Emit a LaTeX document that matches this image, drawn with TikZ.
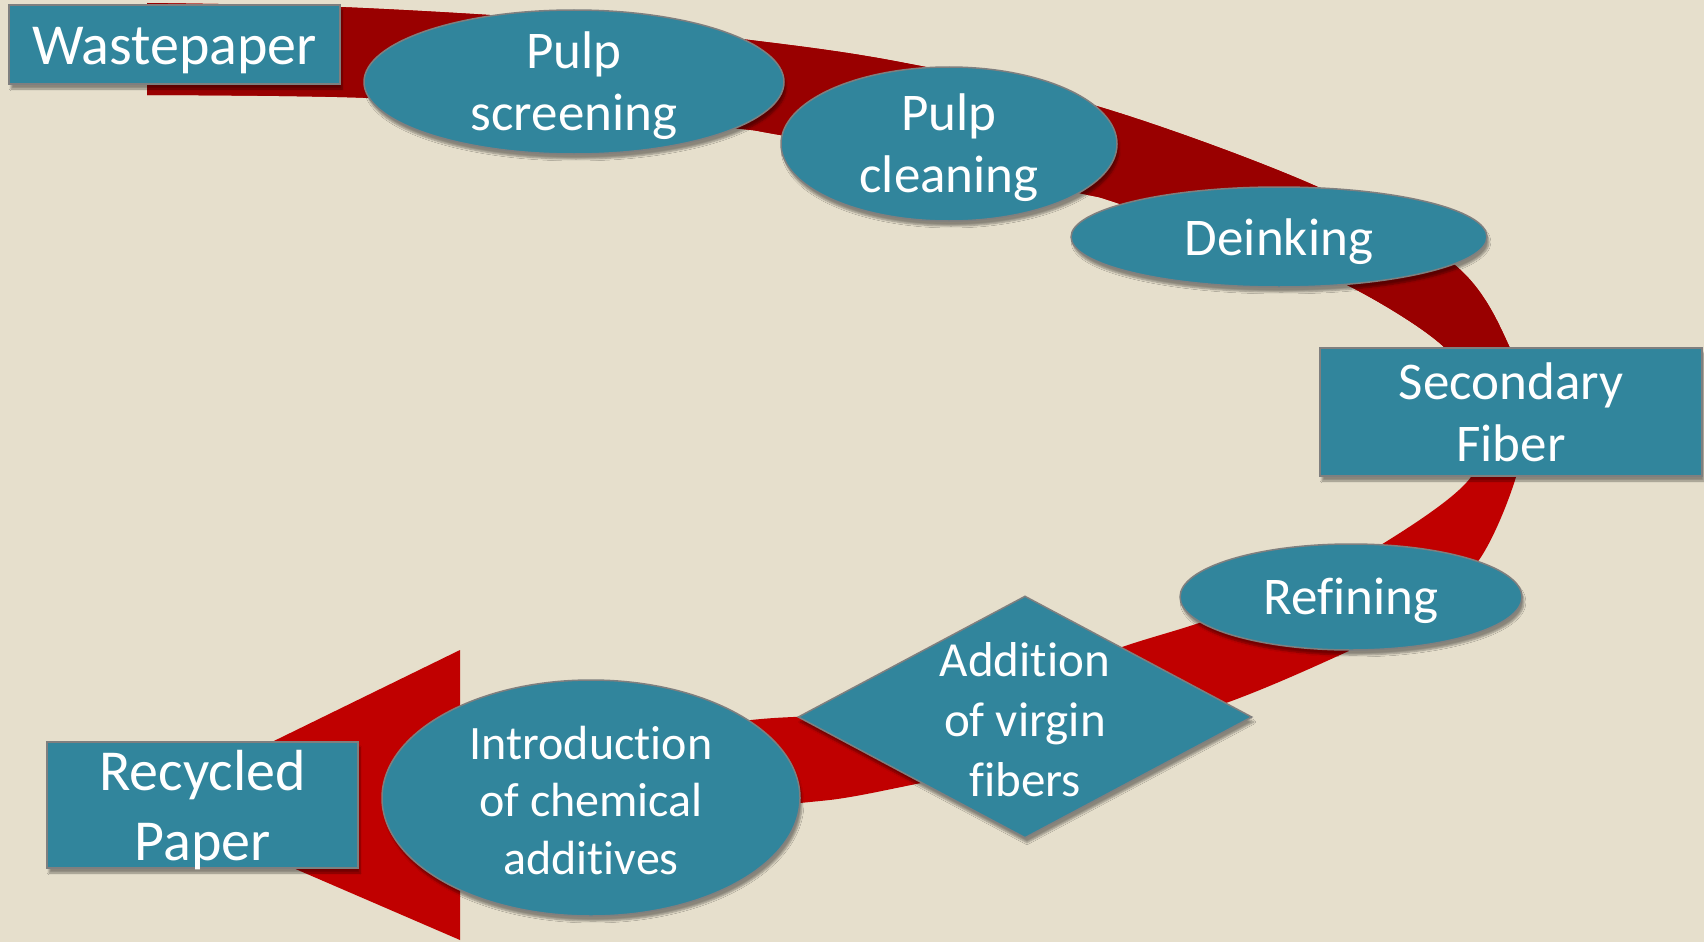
\documentclass[tikz,border=0pt]{standalone}
\usepackage{fontspec}
\setmainfont{Carlito}[Ligatures={NoCommon,NoContextual,NoRequired}, Contextuals=NoAlternate]
\usetikzlibrary{shapes.geometric,shadows.blur}
\definecolor{bgc}{HTML}{E6DFCC}
\definecolor{tealc}{HTML}{31859C}
\definecolor{darkband}{HTML}{990000}
\definecolor{brightband}{HTML}{C00000}
\definecolor{edgec}{HTML}{7F7F7F}
\newcommand\nolig{\kern0pt{}}
\tikzset{
  shapebase/.style={fill=tealc, draw=edgec, line width=1.5pt, inner sep=0pt,
    blur shadow={shadow xshift=2pt, shadow yshift=-5pt, shadow blur steps=6, shadow opacity=40}},
  boxnode/.style={shapebase, rectangle},
  ellnode/.style={shapebase, ellipse},
  dianode/.style={shapebase, diamond},
  lbl/.style={text=white, align=center, inner sep=0pt},
  fmain/.style={font=\fontsize{53}{62}\selectfont},
  fbig/.style={font=\fontsize{58}{70}\selectfont},
  fsmall/.style={font=\fontsize{48}{57.5}\selectfont},
}
\begin{document}
\begin{tikzpicture}[x=1pt, y=-1pt]
\fill[bgc] (0,0) rectangle (1704,942);
\useasboundingbox (0,0) rectangle (1704,942);

% the curved band
\path[save path=\bandp]
  plot[smooth, tension=0.55] coordinates {(147,3) (340,7) (560,20) (750,40) (900,62) (1100,107) (1318,187) (1456,266) (1510,348) (1524,412) (1516,477) (1479,560) (1420,615) (1351,650) (1226,703) (1060,755) (921,783) (850,797) (800,803) (640,818) (460,830)}
  -- plot[smooth, tension=0.55] coordinates {(460,760) (600,740) (751,720) (850,713) (1000,690) (1122,647) (1199,623) (1290,590) (1384,543) (1471,477) (1478,412) (1445,348) (1347,285) (1250,250) (1117,203) (1079,193) (950,165) (780,135) (732,128) (560,112) (370,98) (147,95)}
  -- cycle;
\fill[brightband, use path=\bandp];
\begin{scope}
  \clip (0,0) rectangle (1704,412);
  \fill[darkband, use path=\bandp];
\end{scope}
% arrowhead
\fill[brightband] (145,804) -- (460,650) -- (460,940) -- cycle;

% nodes
\node[boxnode, minimum width=331pt, minimum height=79pt] (wp) at (174.5,44.5) {};
\node[lbl, fbig] (wpt) at ([yshift=-6pt]wp.center) {Wastepaper};

\node[ellnode, minimum width=420pt, minimum height=144pt] (ps) at (574,82) {};
\node[lbl, fmain] (pst) at ([yshift=-4pt]ps.center) {Pulp\\screening};

\node[ellnode, minimum width=336pt, minimum height=154pt] (pc) at (949,144) {};
\node[lbl, fmain] (pct) at ([yshift=-4pt]pc.center) {Pulp\\cleaning};

\node[ellnode, minimum width=416pt, minimum height=100pt] (di) at (1279,237) {};
\node[lbl, fmain] (dit) at ([yshift=-5pt]di.center) {Deinking};

\node[boxnode, minimum width=382pt, minimum height=128pt] (sf) at (1511,412) {};
\node[lbl, fmain] (sft) at (sf) {Secondary\\F\nolig iber};

\node[ellnode, minimum width=342pt, minimum height=106pt] (rf) at (1351,597) {};
\node[lbl, fmain] (rft) at ([yshift=-4pt]rf.center) {Ref\nolig ining};

\node[dianode, minimum width=454pt, minimum height=242pt] (av) at (1025,717) {};
\node[lbl, font=\fontsize{49}{60}\selectfont] (avt) at ([yshift=-3pt]av.center) {Addit\nolig ion\\of virgin\\f\nolig ibers};

\node[ellnode, minimum width=418pt, minimum height=236pt] (ic) at (591,798) {};
\node[lbl, fsmall] (ict) at ([yshift=-2pt]ic.center) {Introduct\nolig ion\\of chemical\\addit\nolig ives};

\node[boxnode, minimum width=311pt, minimum height=126pt] (rp) at (202.5,805) {};
\node[lbl, fbig] (rpt) at ([yshift=-5pt]rp.center) {Recycled\\Paper};
\end{tikzpicture}
\end{document}
